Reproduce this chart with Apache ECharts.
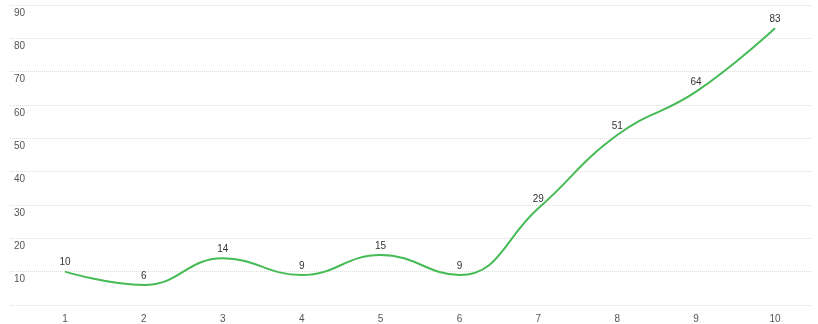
<!DOCTYPE html>
<html>
<head>
<meta charset="utf-8">
<script src="https://cdn.jsdelivr.net/npm/echarts@6/dist/echarts.min.js"></script>
<style>
html,body{margin:0;padding:0;background:#fff;}
#chart{width:818px;height:324px;}
</style>
</head>
<body>
<div id="chart"></div>
<script>
const categories = ['1','2','3','4','5','6','7','8','9','10'];
const values = [10, 6, 14, 9, 15, 9, 29, 51, 64, 83];
const yMin = 0, yMax = 90, yStep = 10;

const chart = echarts.init(document.getElementById('chart'));
chart.setOption({
  animation: false,
  backgroundColor: '#fff',
  grid: [
    {left: 10, right: 6, top: 5, bottom: 19},
    {left: 65, right: 43, top: 5, bottom: 19}
  ],
  xAxis: [
    {gridIndex: 0, type: 'category', data: categories, show: false},
    {gridIndex: 1, type: 'category', data: categories, boundaryGap: false,
     axisLine: {show: false}, axisTick: {show: false},
     axisLabel: {color: '#555', fontSize: 10, margin: 9, fontFamily: 'Arial, Liberation Sans, sans-serif'},
     splitLine: {show: false}}
  ],
  yAxis: [
    {gridIndex: 0, type: 'value', min: yMin, max: yMax, interval: yStep,
     axisLine: {show: false}, axisTick: {show: false},
     axisLabel: {inside: true, margin: 4, showMinLabel: false, verticalAlign: 'top', padding: [3,0,0,0],
       color: '#555', fontSize: 10, fontFamily: 'Arial, Liberation Sans, sans-serif'},
     splitLine: {lineStyle: {color: '#dcdcdc', type: 'dotted', width: 1}}},
    {gridIndex: 1, type: 'value', min: yMin, max: yMax, interval: yStep, show: false}
  ],
  series: [{
    type: 'line',
    xAxisIndex: 1, yAxisIndex: 1,
    data: values,
    smooth: 0.45,
    showSymbol: true,
    symbol: 'circle',
    symbolSize: 2,
    lineStyle: {color: '#45bb55', width: 2},
    itemStyle: {color: 'rgba(0,0,0,0)', borderWidth: 0},
    label: {show: true, position: 'top', distance: 3, color: '#333', fontSize: 10,
      fontFamily: 'Arial, Liberation Sans, sans-serif'}
  }]
});
</script>
</body>
</html>
